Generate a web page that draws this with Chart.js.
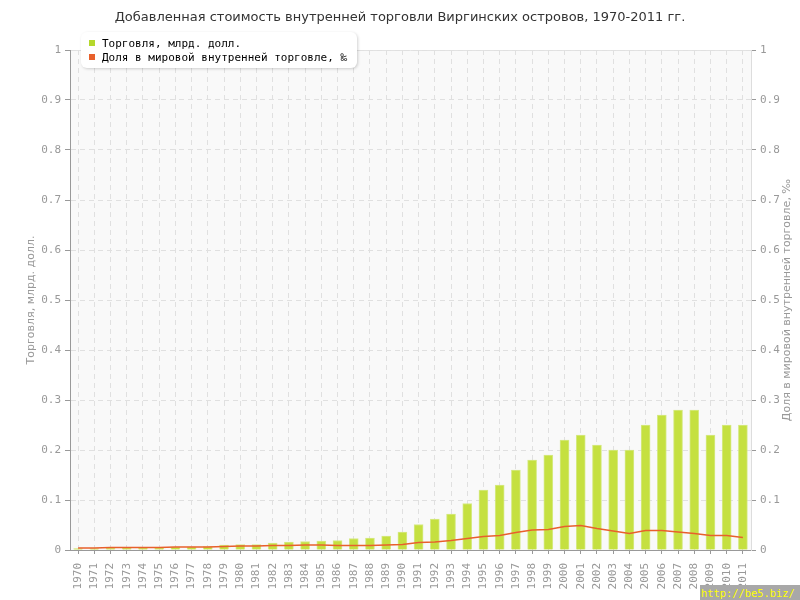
<!DOCTYPE html>
<html>
<head>
<meta charset="utf-8">
<script src="https://cdn.jsdelivr.net/npm/chart.js@4"></script>
<style>
    body { margin: 0; background: #fff; }
    #wrap { position: relative; width: 800px; height: 600px; }
    #legendBox {
        position: absolute; left: 81px; top: 32px; width: 276px; height: 36px;
        background: #fff; border-radius: 6px;
        box-shadow: 1px 1px 3px rgba(0,0,0,0.18);
        font: 11px "DejaVu Sans Mono", monospace; color: #000;
    }
    #legendBox div { position: absolute; left: 8px; white-space: nowrap; }
    #legendBox span { display: inline-block; width: 6px; height: 6px; margin-right: 7px; vertical-align: 1px; }
    #watermark {
        position: absolute; left: 700px; top: 585px; width: 100px; height: 15px;
        background: #a8a8a8; color: #ffff00;
        font: 10.4px "DejaVu Sans Mono", monospace; line-height: 17px; padding-left: 1px;
        box-sizing: border-box; overflow: hidden; white-space: nowrap;
    }
</style>
</head>
<body>
<div id="wrap">
    <canvas id="chart" width="800" height="600"></canvas>
    <div id="legendBox">
        <div style="top:5px"><span style="background:#b5d82c"></span>Торговля, млрд. долл.</div>
        <div style="top:19px"><span style="background:#e8602c"></span>Доля в мировой внутренней торговле, ‰</div>
    </div>
    <div id="watermark">http://be5.biz/</div>
</div>
<script>
const years = [
    '1970', '1971', '1972', '1973', '1974', '1975', '1976', '1977', '1978', '1979',
    '1980', '1981', '1982', '1983', '1984', '1985', '1986', '1987', '1988', '1989',
    '1990', '1991', '1992', '1993', '1994', '1995', '1996', '1997', '1998', '1999',
    '2000', '2001', '2002', '2003', '2004', '2005', '2006', '2007', '2008', '2009',
    '2010', '2011'
];

// Торговля, млрд. долл.
const tradeValues = [
    0.003, 0.003, 0.004, 0.005, 0.005, 0.005, 0.006, 0.006, 0.007, 0.010,
    0.011, 0.011, 0.014, 0.016, 0.017, 0.018, 0.019, 0.023, 0.024, 0.028,
    0.036, 0.051, 0.062, 0.072, 0.093, 0.12, 0.13, 0.16, 0.18, 0.19,
    0.22, 0.23, 0.21, 0.20, 0.20, 0.25, 0.27, 0.28, 0.28, 0.23,
    0.25, 0.25
];

// Доля в мировой внутренней торговле, ‰
const shareValues = [
    0.004, 0.004, 0.005, 0.005, 0.005, 0.005, 0.006, 0.006, 0.006, 0.007,
    0.008, 0.008, 0.009, 0.009, 0.010, 0.010, 0.009, 0.009, 0.009, 0.010,
    0.011, 0.015, 0.016, 0.019, 0.023, 0.027, 0.029, 0.035, 0.040, 0.041,
    0.047, 0.049, 0.043, 0.038, 0.033, 0.039, 0.039, 0.036, 0.033, 0.029,
    0.029, 0.025
];

const yTicks = [0, 0.1, 0.2, 0.3, 0.4, 0.5, 0.6, 0.7, 0.8, 0.9, 1];

const tickFont = { family: 'DejaVu Sans Mono', size: 11 };

// plot background + right axis title (reads bottom to top)
const decor = {
    id: 'decor',
    beforeDraw(chart) {
        const { ctx, chartArea: a } = chart;
        ctx.save();
        ctx.fillStyle = '#f9f9f9';
        ctx.fillRect(a.left, a.top, a.right - a.left, a.bottom - a.top);
        ctx.strokeStyle = '#e2e2e2';
        ctx.lineWidth = 1;
        ctx.beginPath();
        ctx.moveTo(a.left, a.top + 0.5);
        ctx.lineTo(a.right, a.top + 0.5);
        ctx.stroke();
        ctx.restore();
    },
    afterDraw(chart) {
        const { ctx } = chart;
        ctx.save();
        ctx.translate(787, 300);
        ctx.rotate(-Math.PI / 2);
        ctx.font = '11px "DejaVu Sans"';
        ctx.fillStyle = '#999';
        ctx.textAlign = 'center';
        ctx.textBaseline = 'middle';
        ctx.fillText('Доля в мировой внутренней торговле, ‰', 0, 0);
        ctx.restore();
    }
};

const ctx = document.getElementById('chart').getContext('2d');
new Chart(ctx, {
    type: 'bar',
    data: {
        labels: years,
        datasets: [
            {
                type: 'line',
                label: 'Доля в мировой внутренней торговле, ‰',
                data: shareValues,
                yAxisID: 'y2',
                borderColor: '#e8602c',
                borderWidth: 1.5,
                pointRadius: 0,
                tension: 0,
                order: 0
            },
            {
                label: 'Торговля, млрд. долл.',
                data: tradeValues,
                yAxisID: 'y',
                backgroundColor: '#c5e040',
                borderColor: 'rgba(210,232,120,0.9)',
                borderWidth: 1,
                barThickness: 9,
                order: 1
            }
        ]
    },
    options: {
        responsive: false,
        animation: false,
        layout: { padding: 0 },
        plugins: {
            legend: { display: false },
            tooltip: { enabled: false },
            title: {
                display: true,
                text: 'Добавленная стоимость внутренней торговли Виргинских островов, 1970-2011 гг.',
                color: '#333',
                font: { family: 'DejaVu Sans', size: 13, weight: 'normal', lineHeight: 1.2 },
                padding: { top: 10, bottom: 24.4 }
            }
        },
        scales: {
            x: {
                offset: true,
                grid: {
                    offset: false,
                    color: '#e0e0e0',
                    tickColor: '#999',
                    tickLength: 4,
                    tickBorderDash: []
                },
                border: { color: '#999', dash: [5, 4] },
                ticks: {
                    color: '#999',
                    font: tickFont,
                    minRotation: 90,
                    maxRotation: 90,
                    autoSkip: false,
                    padding: 9
                },
                afterFit(scale) { scale.height = 50; }
            },
            y: {
                position: 'left',
                min: 0,
                max: 1,
                afterBuildTicks(scale) { scale.ticks = yTicks.map(v => ({ value: v })); },
                grid: {
                    color: '#e0e0e0',
                    tickColor: '#999',
                    tickLength: 5,
                    tickBorderDash: []
                },
                border: { color: '#999', dash: [5, 4] },
                ticks: {
                    color: '#999',
                    font: tickFont,
                    padding: 4,
                    callback: v => String(v)
                },
                title: {
                    display: true,
                    text: 'Торговля, млрд. долл.',
                    color: '#999',
                    font: { family: 'DejaVu Sans', size: 11 },
                    padding: { top: 25, bottom: 0 }
                },
                afterFit(scale) { scale.width = 70; }
            },
            y2: {
                position: 'right',
                min: 0,
                max: 1,
                afterBuildTicks(scale) { scale.ticks = yTicks.map(v => ({ value: v })); },
                grid: {
                    drawOnChartArea: false,
                    tickColor: '#999',
                    tickLength: 5
                },
                border: { color: '#ddd' },
                ticks: {
                    color: '#999',
                    font: tickFont,
                    padding: 4,
                    callback: v => String(v)
                },
                afterFit(scale) { scale.width = 49; }
            }
        }
    },
    plugins: [decor]
});
</script>
</body>
</html>
